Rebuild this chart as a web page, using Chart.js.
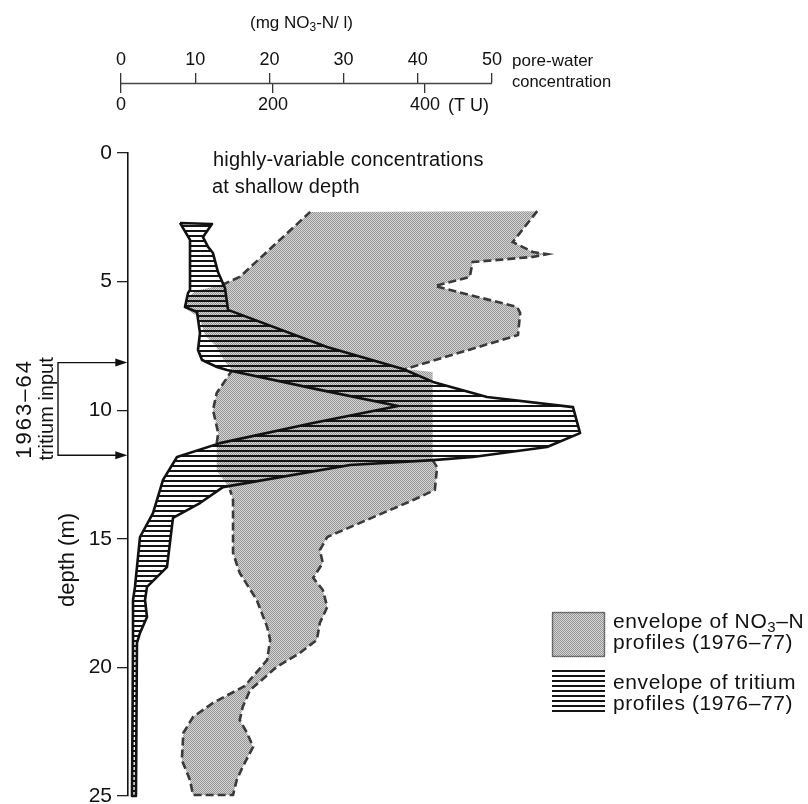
<!DOCTYPE html>
<html>
<head>
<meta charset="utf-8">
<script src="https://cdn.jsdelivr.net/npm/chart.js@4.4.0/dist/chart.umd.min.js"></script>
<style>
  html, body { margin: 0; padding: 0; background: #fff; }
  canvas { display: block; }
</style>
</head>
<body>
<canvas id="profileChart" width="808" height="804"></canvas>
<script>
// envelope of NO3-N profiles, outline in (mg NO3-N/l, depth m)
var nitrateConc = [25.5, 56.1, 52.8, 55.5, 57.4, 55.5, 47.4, 47.0, 42.3, 53.4, 53.8, 53.5, 38.3, 42.0, 42.0, 42.6, 42.3, 39.4,
  27.8, 26.8, 27.2, 25.9, 27.2, 27.8, 26.8, 26.4, 24.1, 21.0, 17.4, 16.4, 16.0, 17.0, 17.8, 16.4, 15.6, 15.1,
  9.7, 9.3, 8.2, 8.4, 9.7, 12.4, 16.7, 19.7, 20.1, 19.7, 18.3, 16.0, 15.1, 15.1, 14.7, 14.0, 12.9, 12.9,
  13.1, 12.4, 12.9, 15.0, 14.0, 12.7, 11.3, 10.6, 9.0, 8.6, 10.0, 13.6, 16.0];
var nitrateDepth = [2.29, 2.26, 3.46, 3.85, 3.93, 4.04, 4.24, 4.82, 5.17, 5.99, 6.22, 7.08, 8.40, 8.51, 11.94, 12.21, 13.10, 13.49,
  14.93, 15.44, 15.94, 16.52, 16.99, 17.65, 18.27, 18.93, 19.44, 19.98, 20.88, 21.54, 22.05, 22.55, 23.09, 23.87, 24.38, 24.96,
  24.96, 24.38, 23.60, 22.55, 21.93, 21.38, 20.72, 19.71, 18.93, 18.43, 17.38, 16.33, 15.55, 13.49, 13.10, 12.79, 12.33, 11.28,
  10.89, 9.99, 9.33, 8.44, 8.13, 7.47, 7.08, 6.42, 6.10, 5.72, 5.37, 5.13, 4.82];

// envelope of tritium profiles, outline in (TU, depth m)
var tritiumTU = [77.6, 119.7, 107.9, 114.5, 121, 127.6, 136.8, 140.8, 271, 371, 410.5, 481.6, 594.7, 604, 560.5, 463, 410.5,
  301.3, 134.2, 103.9, 68.4, 60.5, 34.2, 31.6, 34.2, 25, 21, 19.7, 14.5, 15.8, 15.8, 18.4, 25, 42.1, 55.3, 73.7,
  130.3, 252.6, 364.5, 261.8, 139.5, 126.3, 106.6, 101.3, 103.9, 100, 84.2, 88.2, 90.8, 90.8];
var tritiumDepth = [2.72, 2.76, 3.27, 3.65, 3.89, 4.63, 5.25, 6.10, 7.54, 8.40, 8.90, 9.49, 9.88, 10.89, 11.43, 11.82, 11.94,
  12.13, 12.99, 13.61, 14.19, 16.10, 16.87, 17.38, 18.04, 18.66, 19.05, 25.0, 25.0, 18.93, 17.38, 16.87, 14.93, 14.00, 12.71, 11.82,
  11.28, 10.50, 9.84, 9.21, 8.44, 8.32, 8.05, 7.66, 7.00, 6.18, 5.99, 5.44, 5.33, 3.38];

var mgTicks = [0, 10, 20, 30, 40, 50];
var tuTicks = [0, 200, 400];
var depthTicks = [0, 5, 10, 15, 20, 25];
var inputDepths = [8.15, 11.75]; // 1963-64 tritium input

var FONT = '"Liberation Sans", Arial, sans-serif';
var AXIS_DEPTH = -2.72;   // depth level where the concentration axis sits
var canvas = document.getElementById('profileChart');
var ctx = canvas.getContext('2d');

// fill textures
function makeStipple() {
  var c = document.createElement('canvas');
  c.width = 2; c.height = 2;
  var g = c.getContext('2d');
  g.fillStyle = '#d4d4d4'; g.fillRect(0, 0, 2, 2);
  g.fillStyle = '#979797'; g.fillRect(0, 0, 1, 1); g.fillRect(1, 1, 1, 1);
  return ctx.createPattern(c, 'repeat');
}
function makeHatch() {
  var c = document.createElement('canvas');
  c.width = 4; c.height = 5;
  var g = c.getContext('2d');
  g.fillStyle = '#151515'; g.fillRect(0, 0, 4, 2);
  return ctx.createPattern(c, 'repeat');
}
var stipple = makeStipple();
var hatch = makeHatch();

function closedPoints(xs, ys) {
  var pts = xs.map(function (v, i) { return { x: v, y: ys[i] }; });
  pts.push({ x: xs[0], y: ys[0] });
  return pts;
}

// nitrate outline segments hidden under the tritium envelope / top edge
var hiddenSeg = [0, 12, 13, 50, 51, 52, 57, 58, 59, 60, 61, 62, 63, 64];

function putTicks(list) {
  return function (scale) {
    scale.ticks = list.map(function (v) { return { value: v }; });
  };
}

function drawSub(c, parts, x, y, size, spacing) {
  // parts: [text, isSubscript]
  c.letterSpacing = (spacing || 0) + 'px';
  parts.forEach(function (p) {
    c.font = (p[1] ? Math.round(size * 0.7) : size) + 'px ' + FONT;
    c.fillText(p[0], x, p[1] ? y + size * 0.3 : y);
    x += c.measureText(p[0]).width;
  });
  c.letterSpacing = '0px';
}

function text(c, str, x, y, size, spacing) {
  c.font = size + 'px ' + FONT;
  c.letterSpacing = (spacing || 0) + 'px';
  c.fillText(str, x, y);
  c.letterSpacing = '0px';
}

var annotations = {
  id: 'annotations',
  afterDraw: function (chart) {
    var c = chart.ctx;
    var sy = chart.scales.y, s2 = chart.scales.x2, sx = chart.scales.x;
    c.save();
    c.fillStyle = '#111';
    c.strokeStyle = '#111';
    c.textBaseline = 'middle';
    c.textAlign = 'left';

    // concentration axis line (0-50 mg only)
    var ay = Math.round(sy.getPixelForValue(AXIS_DEPTH)) + 0.5;
    c.strokeStyle = '#444';
    c.lineWidth = 1.5;
    c.beginPath();
    c.moveTo(sx.getPixelForValue(0), ay);
    c.lineTo(sx.getPixelForValue(50), ay);
    c.stroke();
    c.strokeStyle = '#111';

    drawSub(c, [['(mg NO', false], ['3', true], ['-N/ l)', false]], 250, 23, 17);

    text(c, 'pore-water', 512, 61, 17);
    text(c, 'concentration', 512, 82, 16.5);
    text(c, '(T U)', s2.getPixelForValue(400) + 23, 106, 18);

    text(c, 'highly-variable concentrations', 213, 160, 20, 0.2);
    text(c, 'at shallow depth', 212, 187, 20, 0.2);

    // depth title and tritium input bracket
    c.save();
    c.translate(68, 560);
    c.rotate(-Math.PI / 2);
    c.textAlign = 'center';
    text(c, 'depth (m)', 0, 0, 22);
    c.restore();

    var ya = sy.getPixelForValue(inputDepths[0]);
    var yb = sy.getPixelForValue(inputDepths[1]);
    c.save();
    c.translate(36, (ya + yb) / 2);
    c.rotate(-Math.PI / 2);
    c.textAlign = 'center';
    text(c, '1963–64', 0, -11, 22, 2);
    text(c, 'tritium input', 0, 11, 20);
    c.restore();

    var xTip = sx.getPixelForValue(0.85);
    c.lineWidth = 1.4;
    c.beginPath();
    c.moveTo(xTip - 8, ya); c.lineTo(58, ya); c.lineTo(58, yb); c.lineTo(xTip - 8, yb);
    c.stroke();
    [ya, yb].forEach(function (yv) {
      c.beginPath();
      c.moveTo(xTip, yv); c.lineTo(xTip - 12, yv - 4); c.lineTo(xTip - 12, yv + 4);
      c.closePath(); c.fill();
    });

    // legend
    c.fillStyle = stipple;
    c.fillRect(552, 612, 53, 45);
    c.setLineDash([1, 1]);
    c.lineWidth = 1.5;
    c.strokeStyle = '#222';
    c.strokeRect(552.5, 612.5, 52, 44);
    c.setLineDash([]);
    c.fillStyle = hatch;
    c.fillRect(552, 670, 53, 42);

    c.fillStyle = '#111';
    drawSub(c, [['envelope of NO', false], ['3', true], ['–N', false]], 613, 622, 21, 0.6);
    text(c, 'profiles (1976–77)', 613, 643, 21, 0.6);
    text(c, 'envelope of tritium', 613, 683, 21, 0.6);
    text(c, 'profiles (1976–77)', 613, 704, 21, 0.6);
    c.restore();
  }
};

var nitratePts = closedPoints(nitrateConc, nitrateDepth);

var chart = new Chart(ctx, {
  type: 'line',
  data: {
    datasets: [
      {
        label: 'envelope of tritium profiles (1976–77)',
        data: closedPoints(tritiumTU, tritiumDepth),
        xAxisID: 'x2',
        yAxisID: 'y',
        order: 1,
        fill: 'shape',
        backgroundColor: hatch,
        borderColor: '#111',
        borderWidth: 2.6,
        borderJoinStyle: 'round',
        pointRadius: 0,
        tension: 0,
        clip: false
      },
      {
        label: 'envelope of NO3-N profiles (1976–77) outline',
        data: nitratePts,
        xAxisID: 'x',
        yAxisID: 'y',
        order: 2,
        fill: false,
        borderColor: '#3a3a3a',
        borderWidth: 2.6,
        borderDash: [8, 4],
        pointRadius: 0,
        tension: 0,
        clip: false,
        segment: {
          borderColor: function (s) {
            return hiddenSeg.indexOf(s.p0DataIndex) >= 0 ? 'rgba(0,0,0,0)' : '#3a3a3a';
          }
        }
      },
      {
        label: 'envelope of NO3-N profiles (1976–77)',
        data: nitratePts,
        xAxisID: 'x',
        yAxisID: 'y',
        order: 3,
        fill: 'shape',
        backgroundColor: stipple,
        borderWidth: 0,
        borderColor: 'rgba(0,0,0,0)',
        pointRadius: 0,
        tension: 0,
        clip: false
      }
    ]
  },
  options: {
    responsive: false,
    animation: false,
    devicePixelRatio: 1,
    layout: { padding: { left: 0, right: 216, top: 153, bottom: 8 } },
    plugins: { legend: { display: false }, tooltip: { enabled: false } },
    scales: {
      x: {
        type: 'linear',
        position: { y: AXIS_DEPTH },
        min: 0, max: 63.48,
        afterBuildTicks: putTicks(mgTicks),
        grid: { drawOnChartArea: false, tickLength: -10, color: '#333', lineWidth: 1.3 },
        border: { display: false },
        ticks: { padding: -24, color: '#111', font: { family: FONT, size: 18 } }
      },
      x2: {
        type: 'linear',
        position: { y: AXIS_DEPTH },
        min: 0, max: 619.7,
        afterBuildTicks: putTicks(tuTicks),
        grid: { drawOnChartArea: false, tickLength: 10, color: '#333', lineWidth: 1.3 },
        border: { display: false },
        ticks: { padding: 1, color: '#111', font: { family: FONT, size: 18 } }
      },
      yLabels: {
        type: 'linear',
        position: 'left',
        reverse: true,
        min: 0, max: 25,
        afterBuildTicks: putTicks(depthTicks),
        afterFit: function (scale) {
          scale.width = 121;
          scale.paddingTop = 0;
          scale.paddingBottom = 0;
        },
        grid: { display: false, drawTicks: false },
        border: { display: false },
        ticks: { padding: 9, color: '#111', font: { family: FONT, size: 21 } }
      },
      y: {
        type: 'linear',
        position: { x: 0.85 },
        reverse: true,
        min: 0, max: 25,
        afterBuildTicks: putTicks(depthTicks),
        afterFit: function (scale) {
          scale.paddingTop = 0;
          scale.paddingBottom = 0;
        },
        grid: { drawOnChartArea: false, tickLength: 10, color: '#222', lineWidth: 1.3 },
        border: { display: true, color: '#111', width: 1.6 },
        ticks: { display: false }
      }
    }
  },
  plugins: [annotations]
});
</script>
</body>
</html>
